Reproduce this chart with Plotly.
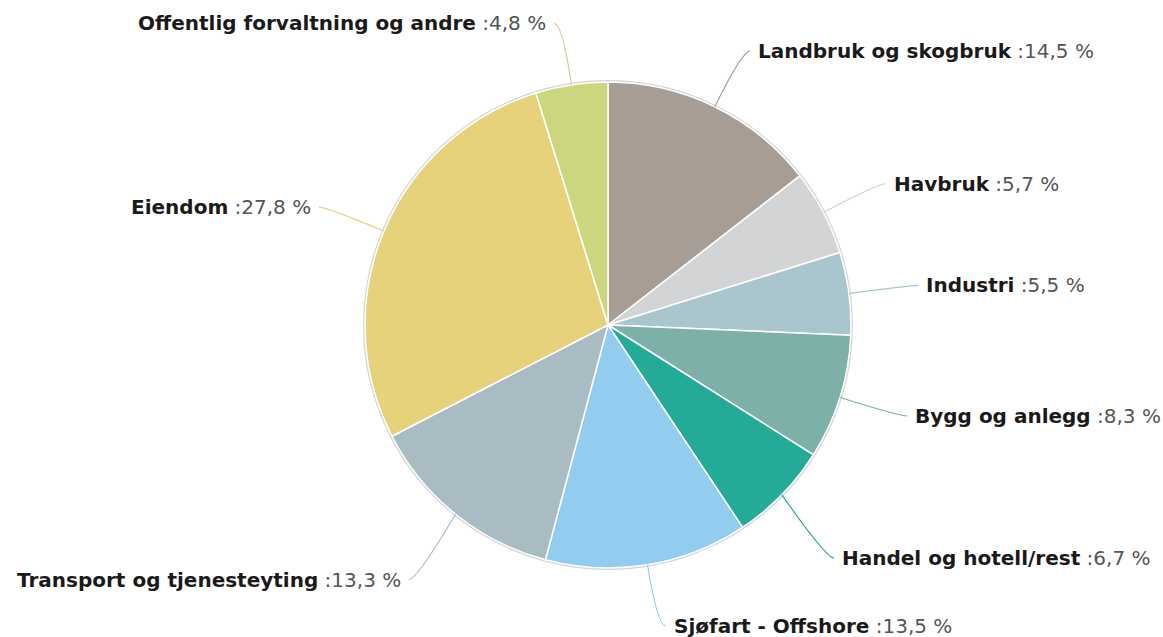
import math
import plotly.graph_objects as go

categories = ["Landbruk og skogbruk", "Havbruk", "Industri", "Bygg og anlegg",
              "Handel og hotell/rest", "Sjøfart - Offshore", "Transport og tjenesteyting",
              "Eiendom", "Offentlig forvaltning og andre"]
values = [14.5, 5.7, 5.5, 8.3, 6.7, 13.5, 13.3, 27.8, 4.8]
colors = ["#a89d94", "#d3d4d5", "#a9c6ce", "#7eb0aa", "#24ab98",
          "#92cdef", "#a9bcc3", "#e7d27c", "#cbd67f"]

W, H = 1163, 637
CX, CY, R = 608, 325, 243
R2 = 305
# small vertical label nudges (layout only), as the labels are pushed apart in the original
label_nudge = {"Handel og hotell/rest": 20, "Transport og tjenesteyting": 17}

fig = go.Figure()
fig.add_trace(go.Pie(
    values=values, labels=categories, sort=False, direction="clockwise",
    rotation=0, textinfo="none", hoverinfo="label+percent",
    marker=dict(colors=colors, line=dict(color="white", width=1.5)),
    domain=dict(x=[(CX - R) / W, (CX + R) / W], y=[1 - (CY + R) / H, 1 - (CY - R) / H]),
    showlegend=False,
))

def px(x):
    return x / W

def py(y):
    return 1 - y / H

shapes = [dict(type="circle", xref="paper", yref="paper",
               x0=px(CX - R - 1), x1=px(CX + R + 1), y0=py(CY + R + 1), y1=py(CY - R - 1),
               line=dict(color="#d6d6d6", width=2), layer="below")]
annotations = []
total = sum(values)
cum = 0.0
for name, v, c in zip(categories, values, colors):
    mid = (cum + v / 2) / total * 2 * math.pi
    cum += v
    s, co = math.sin(mid), math.cos(mid)
    ex, ey = CX + R * s, CY - R * co
    bx, by = CX + R2 * s, CY - R2 * co + label_nudge.get(name, 0)
    side = 1 if s >= 0 else -1
    hx = bx + side * 8
    path = (f"M {px(ex)},{py(ey)} Q {px(bx)},{py(by)} {px(hx)},{py(by)}")
    shapes.append(dict(type="path", xref="paper", yref="paper", path=path,
                       line=dict(color=c, width=1.2)))
    txt = (f"<b>{name}</b> <span style='color:#555'>:{v:.1f} %</span>").replace(".", ",")
    annotations.append(dict(
        x=px(hx + side * 6), y=py(by), xref="paper", yref="paper",
        text=txt, showarrow=False, xanchor="left" if side > 0 else "right",
        yanchor="middle", font=dict(family="DejaVu Sans", size=20, color="#1a1a1a"),
    ))

fig.update_layout(
    width=W, height=H, margin=dict(l=0, r=0, t=0, b=0),
    paper_bgcolor="white", plot_bgcolor="white",
    shapes=shapes, annotations=annotations,
)
fig.write_html("out.html")
